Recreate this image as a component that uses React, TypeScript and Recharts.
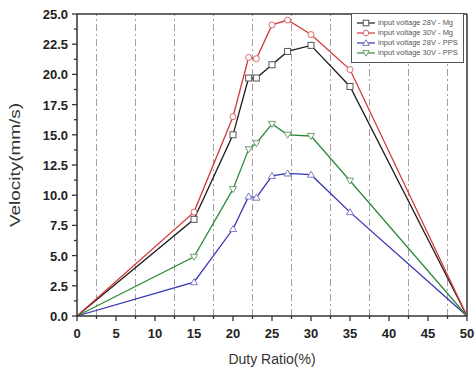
import {
  LineChart,
  Line,
  XAxis,
  YAxis,
  ReferenceLine,
  Legend,
  Label,
} from 'recharts';

const duty = [0, 15, 20, 22, 23, 25, 27, 30, 35, 50];
const mg28 = [0, 8.0, 15.0, 19.7, 19.7, 20.8, 21.9, 22.4, 19.0, 0];
const mg30 = [0, 8.6, 16.5, 21.4, 21.3, 24.1, 24.5, 23.3, 20.4, 0];
const pps28 = [0, 2.8, 7.2, 9.9, 9.8, 11.6, 11.8, 11.7, 8.6, 0];
const pps30 = [0, 4.9, 10.5, 13.8, 14.3, 15.9, 15.0, 14.9, 11.2, 0];

const xTicks = [0, 2.5, 5, 7.5, 10, 12.5, 15, 17.5, 20, 22.5, 25, 27.5, 30, 32.5, 35, 37.5, 40, 42.5, 45, 47.5, 50];
const yTicks = [0, 1.25, 2.5, 3.75, 5, 6.25, 7.5, 8.75, 10, 11.25, 12.5, 13.75, 15, 16.25, 17.5, 18.75, 20, 21.25, 22.5, 23.75, 25];
const gridX = [2.5, 7.5, 12.5, 17.5, 22.5, 27.5, 32.5, 37.5, 42.5, 47.5];

const series = [
  { key: 'mg28', name: 'input voltage 28V - Mg', line: '#1c1c1c', mark: '#555555', shape: 'square' },
  { key: 'mg30', name: 'input voltage 30V - Mg', line: '#d23a3a', mark: '#dd6a6a', shape: 'circle' },
  { key: 'pps28', name: 'input voltage 28V - PPS', line: '#3434b4', mark: '#7c7cc4', shape: 'up' },
  { key: 'pps30', name: 'input voltage 30V - PPS', line: '#2f8a3a', mark: '#6f9f6f', shape: 'down' },
];

const data = duty.map((d, i) => ({
  duty: d,
  mg28: mg28[i],
  mg30: mg30[i],
  pps28: pps28[i],
  pps30: pps30[i],
}));

const FONT = '"Liberation Sans", Arial, sans-serif';

function Marker({ shape, cx, cy, s, stroke }: any) {
  const common = { fill: '#fff', stroke, strokeWidth: 1 };
  if (shape === 'square') {
    return <rect x={cx - s} y={cy - s} width={s * 2} height={s * 2} {...common} />;
  }
  if (shape === 'circle') {
    return <circle cx={cx} cy={cy} r={s} {...common} />;
  }
  if (shape === 'up') {
    return (
      <polygon
        points={`${cx},${cy - s * 1.15} ${cx - s * 1.2},${cy + s * 0.85} ${cx + s * 1.2},${cy + s * 0.85}`}
        {...common}
      />
    );
  }
  return (
    <polygon
      points={`${cx},${cy + s * 1.15} ${cx - s * 1.2},${cy - s * 0.85} ${cx + s * 1.2},${cy - s * 0.85}`}
      {...common}
    />
  );
}

const XTick = (props: any) => {
  const { x, y, payload } = props;
  const v = payload.value;
  const major = v % 5 === 0;
  return (
    <g>
      <line x1={x} x2={x} y1={y} y2={y + (major ? 5 : 3)} stroke="#333" strokeWidth={1.3} />
      {major && (
        <text x={x} y={y + 22} textAnchor="middle" fontSize={13} fontWeight="bold" fill="#222" fontFamily={FONT}>
          {v}
        </text>
      )}
    </g>
  );
};

const YTick = (props: any) => {
  const { x, y, payload } = props;
  const v = payload.value;
  const major = Math.abs(v / 2.5 - Math.round(v / 2.5)) < 1e-6;
  return (
    <g>
      <line x1={x - (major ? 5 : 3)} x2={x} y1={y} y2={y} stroke="#333" strokeWidth={1.3} />
      {major && (
        <text x={x - 9} y={y + 5} textAnchor="end" fontSize={13} fontWeight="bold" fill="#222" fontFamily={FONT}>
          {v.toFixed(1)}
        </text>
      )}
    </g>
  );
};

const LegendBox = () => (
  <div
    style={{
      border: '1px solid #555',
      background: '#fff',
      padding: '4px 5px 4px 4px',
      fontFamily: FONT,
      fontSize: 7.5,
      color: '#555',
      lineHeight: '10px',
    }}
  >
    {series.map((s) => (
      <div key={s.key} style={{ display: 'flex', alignItems: 'center', height: 10 }}>
        <svg width={20} height={10} style={{ marginRight: 2 }}>
          <line x1={1} x2={19} y1={5} y2={5} stroke={s.line} strokeWidth={1.2} />
          <Marker shape={s.shape} cx={10} cy={5} s={2.8} stroke={s.mark} />
        </svg>
        <span style={{ color: '#555' }}>{s.name}</span>
      </div>
    ))}
  </div>
);

export default function App() {
  return (
    <div style={{ position: 'absolute', left: 0, top: 0, background: '#fff' }}>
      <LineChart width={475} height={371} data={data} margin={{ top: 14, right: 8, left: 0, bottom: 0 }}>
        {gridX.map((g) => (
          <ReferenceLine key={g} x={g} stroke="#a0a0a0" strokeWidth={1} strokeDasharray="7 3 2 3" />
        ))}
        <ReferenceLine y={25} stroke="#333" strokeWidth={1.5} />
        <ReferenceLine x={50} stroke="#333" strokeWidth={1.5} />
        <XAxis
          dataKey="duty"
          type="number"
          domain={[0, 50]}
          ticks={xTicks}
          interval={0}
          height={55}
          tickSize={0}
          tickMargin={0}
          tickLine={false}
          tick={<XTick />}
          axisLine={{ stroke: '#333', strokeWidth: 1.5 }}
        >
          <Label
            content={(p: any) => (
              <text
                x={p.viewBox.x + p.viewBox.width / 2}
                y={p.viewBox.y + 48}
                textAnchor="middle"
                fontSize={14}
                fill="#333"
                fontFamily={FONT}
              >
                Duty Ratio(%)
              </text>
            )}
          />
        </XAxis>
        <YAxis
          type="number"
          domain={[0, 25]}
          ticks={yTicks}
          interval={0}
          width={77}
          tickSize={0}
          tickMargin={0}
          tickLine={false}
          tick={<YTick />}
          axisLine={{ stroke: '#333', strokeWidth: 1.5 }}
        >
          <Label
            content={(p: any) => {
              const cx = p.viewBox.x + 20;
              const cy = p.viewBox.y + p.viewBox.height / 2;
              return (
                <text
                  x={cx}
                  y={cy}
                  transform={`rotate(-90, ${cx}, ${cy})`}
                  textAnchor="middle"
                  fontSize={14}
                  fill="#333"
                  fontFamily={FONT}
                  textLength={124}
                  lengthAdjust="spacingAndGlyphs"
                >
                  Velocity(mm/s)
                </text>
              );
            }}
          />
        </YAxis>
        {series.map((s) => (
          <Line
            key={s.key}
            dataKey={s.key}
            name={s.name}
            type="linear"
            stroke={s.line}
            strokeWidth={1.3}
            isAnimationActive={false}
            dot={(p: any) => {
              const d = p.payload.duty;
              if (d === 0 || d === 50) return <g key={p.index} />;
              return <Marker key={p.index} shape={s.shape} cx={p.cx} cy={p.cy} s={3} stroke={s.mark} />;
            }}
            activeDot={false}
          />
        ))}
        <Legend
          layout="horizontal"
          verticalAlign="middle"
          align="center"
          content={<LegendBox />}
          wrapperStyle={{ top: 13, left: 351, width: 'auto', height: 'auto' }}
        />
      </LineChart>
    </div>
  );
}
